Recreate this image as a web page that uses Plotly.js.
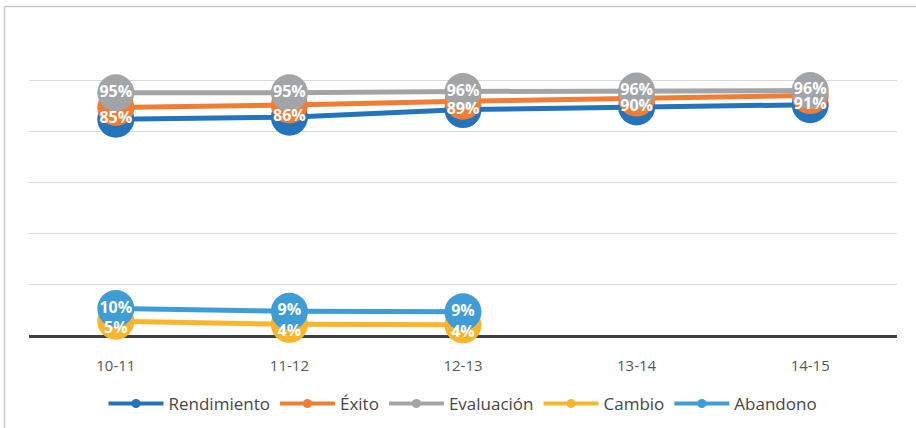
<!DOCTYPE html>
<html>
<head>
<meta charset="utf-8">
<script src="https://cdn.plot.ly/plotly-3.0.1.min.js"></script>
<style>
  html, body { margin: 0; padding: 0; background: #ffffff; }
  #chart { width: 916px; height: 428px; }
</style>
</head>
<body>
<div id="chart"></div>
<script>
// ---- data ----
const categories   = ['10-11', '11-12', '12-13', '13-14', '14-15'];
const rendimiento  = [0.849, 0.857, 0.887, 0.897, 0.906];
const exito        = [0.895, 0.905, 0.920, 0.932, 0.942];
const evaluacion   = [0.953, 0.953, 0.958, 0.960, 0.962];
const cambio       = [0.054, 0.042, 0.040];
const abandono     = [0.104, 0.093, 0.091];
const seriesNames  = ['Rendimiento', 'Éxito', 'Evaluación', 'Cambio', 'Abandono'];
const yTicks       = [0, 0.2, 0.4, 0.6, 0.8, 1.0, 1.2];

// ---- styles ----
const colors = ['#2474BD', '#F07D33', '#A2A5A8', '#FAB52C', '#3E9DD6'];
const seriesData = [rendimiento, exito, evaluacion, cambio, abandono];
const labelFont = { family: 'Open Sans, sans-serif', size: 16, color: '#ffffff', weight: 'bold' };

const traces = [];
// lines + markers
seriesData.forEach((vals, i) => {
  traces.push({
    type: 'scatter', mode: 'lines+markers',
    x: categories.slice(0, vals.length), y: vals,
    name: seriesNames[i], showlegend: false, cliponaxis: false,
    line: { color: colors[i], width: 5 },
    marker: { color: colors[i], size: 37 },
    hoverinfo: 'skip'
  });
});
// data labels (drawn above all markers)
const labelSpec = [
  { idx: 0, pos: 'middle center' },
  { idx: 2, pos: 'middle center' },
  { idx: 3, pos: 'bottom center' },
  { idx: 4, pos: 'middle center' }
];
labelSpec.forEach(s => {
  const vals = seriesData[s.idx];
  traces.push({
    type: 'scatter', mode: 'text',
    x: categories.slice(0, vals.length), y: vals,
    texttemplate: '%{y:.0%}', textposition: s.pos, cliponaxis: false,
    textfont: labelFont, showlegend: false, hoverinfo: 'skip'
  });
});
// legend entries
seriesNames.forEach((n, i) => {
  traces.push({
    type: 'scatter', mode: 'lines+markers',
    x: [null], y: [null], name: n, showlegend: true,
    line: { color: colors[i], width: 4 },
    marker: { color: colors[i], size: 9 }
  });
});

const layout = {
  width: 916, height: 428,
  margin: { l: 29, r: 19, t: 30, b: 93, autoexpand: false },
  paper_bgcolor: '#ffffff', plot_bgcolor: '#ffffff',
  font: { family: 'Open Sans, sans-serif', color: '#595959' },
  xaxis: {
    type: 'category', range: [-0.5, 4.5], layer: 'below traces',
    showgrid: false, showline: true, linecolor: '#404040', linewidth: 2.5,
    ticks: '', ticklabelstandoff: 15,
    tickfont: { size: 15, color: '#595959' }, fixedrange: true
  },
  yaxis: {
    range: [0, 1.2], tickvals: yTicks, showticklabels: false, layer: 'below traces',
    showgrid: true, gridcolor: '#DADADA', gridwidth: 1,
    zeroline: false, fixedrange: true
  },
  legend: {
    orientation: 'h', x: 0.5, xanchor: 'center', y: -0.226, yanchor: 'middle',
    font: { size: 17, color: '#464646' }, itemwidth: 55,
    traceorder: 'normal'
  },
  shapes: [
    { type: 'line', xref: 'paper', yref: 'paper', x0: -0.0282, x1: 1.03, y0: 1.077, y1: 1.077,
      line: { color: '#C8C8C8', width: 1.5 } },
    { type: 'line', xref: 'paper', yref: 'paper', x0: -0.0282, x1: -0.0282, y0: 1.077, y1: -0.32,
      line: { color: '#C8C8C8', width: 1.5 } }
  ],
  showlegend: true
};

Plotly.newPlot('chart', traces, layout, { displayModeBar: false, staticPlot: true });
</script>
</body>
</html>
